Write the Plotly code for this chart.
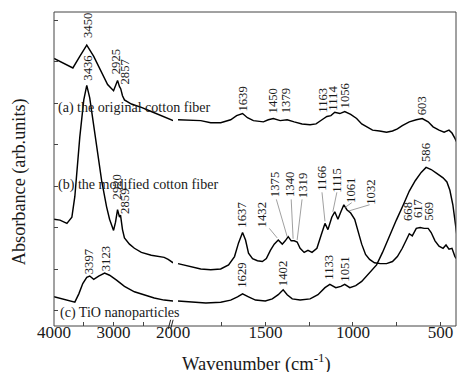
import plotly.graph_objects as go

# ---------------- data (wavenumber in cm-1, absorbance in arb. units) ----------------
a_left_wn = [4000, 3833, 3683, 3567, 3450, 3333, 3200, 3100, 3000, 2933, 2900, 2880, 2850, 2817,
             2700, 2533, 2367, 2200, 2100, 2000]
a_left_abs = [6.48, 6.35, 6.25, 6.53, 6.80, 6.53, 6.15, 5.85, 5.70, 5.95, 5.80, 5.75, 5.58, 5.48,
              5.38, 5.30, 5.20, 5.10, 5.03, 4.98]
a_right_wn = [2000, 1926, 1870, 1813, 1756, 1699, 1665, 1631, 1603, 1569, 1512, 1484, 1455, 1416, 1376,
              1336, 1291, 1245, 1211, 1177, 1149, 1126, 1104, 1075, 1047, 1013, 979, 950, 922, 888,
              848, 808, 774, 746, 718, 678, 638, 604, 570, 542, 508, 479, 451, 434, 417, 400]
a_right_abs = [5.00, 4.98, 4.98, 4.93, 4.93, 5.00, 5.10, 5.15, 5.05, 4.98, 4.95, 5.00, 5.03, 4.98, 5.00,
               4.95, 4.90, 4.88, 4.90, 5.00, 5.08, 5.10, 5.18, 5.15, 5.20, 5.13, 5.03, 4.90, 4.83, 4.75,
               4.73, 4.70, 4.73, 4.78, 4.86, 4.95, 5.00, 5.03, 4.95, 4.83, 4.75, 4.70, 4.75, 4.68, 4.55, 4.40]

b_left_wn = [4000, 3900, 3783, 3700, 3650, 3600, 3567, 3500, 3450, 3400, 3317, 3250, 3200, 3117, 3067,
             3000, 2967, 2933, 2900, 2883, 2850, 2817, 2733, 2650, 2533, 2367, 2233, 2150, 2083, 2000]
b_left_abs = [2.60, 2.58, 2.50, 2.65, 3.15, 4.03, 4.58, 5.48, 5.83, 5.53, 4.73, 4.03, 3.53, 2.90, 2.60,
              2.33, 2.53, 2.83, 2.65, 2.70, 2.35, 2.15, 2.00, 1.90, 1.80, 1.73, 1.70, 1.68, 1.63, 1.55]
b_right_wn = [2000, 1926, 1870, 1813, 1756, 1711, 1677, 1654, 1631, 1614, 1597, 1574, 1546, 1518, 1495,
              1472, 1450, 1427, 1404, 1387, 1370, 1353, 1336, 1319, 1302, 1279, 1257, 1234, 1206, 1183,
              1160, 1143, 1121, 1104, 1086, 1069, 1052, 1035, 1013, 990, 973, 950, 928, 905, 877,
              843, 808, 774, 746, 718, 695, 678, 661, 638, 616, 593, 570, 553, 531, 508,
              485, 468, 451, 434, 417, 400]
b_right_abs = [1.53, 1.45, 1.40, 1.38, 1.40, 1.50, 1.70, 2.03, 2.28, 2.10, 1.78, 1.65, 1.60, 1.58, 1.65,
               1.85, 2.00, 2.10, 2.00, 2.08, 2.18, 2.08, 2.08, 2.05, 1.90, 1.80, 1.85, 1.80, 1.90, 2.20,
               2.50, 2.35, 2.65, 2.78, 2.60, 2.78, 2.95, 2.83, 2.75, 2.60, 2.35, 2.00, 1.75, 1.63, 1.55,
               1.53, 1.53, 1.58, 1.70, 1.90, 2.10, 2.25, 2.20, 2.38, 2.40, 2.38, 2.38, 2.28, 2.08, 1.95,
               1.90, 1.98, 1.88, 1.90, 1.70, 1.60]

c_left_wn = [4000, 3867, 3733, 3650, 3583, 3517, 3450, 3400, 3333, 3250, 3150, 3067, 2950, 2817, 2650,
             2483, 2317, 2150, 2000]
c_left_abs = [0.73, 0.68, 0.63, 0.60, 0.80, 1.05, 1.20, 1.23, 1.15, 1.23, 1.30, 1.25, 1.13, 0.98, 0.85,
              0.78, 0.70, 0.65, 0.63]
c_right_wn = [2000, 1926, 1841, 1756, 1699, 1660, 1631, 1597, 1557, 1501, 1461, 1427, 1399, 1376, 1347,
              1302, 1245, 1200, 1160, 1132, 1098, 1069, 1047, 1018, 984, 950, 916, 888, 865, 831,
              792, 752, 712, 678, 644, 610, 582, 553, 519, 485, 463, 446, 429, 411, 400]
c_right_abs = [0.63, 0.60, 0.58, 0.60, 0.65, 0.73, 0.80, 0.73, 0.65, 0.63, 0.68, 0.78, 0.90, 0.78, 0.68,
               0.65, 0.68, 0.78, 0.95, 1.03, 0.95, 0.98, 1.03, 0.95, 1.00, 1.10, 1.25, 1.38, 1.50, 1.80,
               2.20, 2.58, 2.95, 3.28, 3.53, 3.73, 3.85, 3.80, 3.70, 3.60, 3.50, 3.30, 2.95, 2.45, 2.03]

series_names = ["(a) the original cotton fiber", "(b) the modified cotton fiber", "(c) TiO nanoparticles"]

left_ticks = [4000, 3500, 3000, 2500, 2000]
left_ticktext = ["4000", "", "3000", "", "2000"]
right_ticks = [1750, 1500, 1250, 1000, 750, 500]
right_ticktext = ["", "1500", "", "1000", "", "500"]

# peak labels: text, axis, wavenumber position, absorbance position
peak_labels = [
    ("3450", "x", 3433, 7.28), ("2925", "x", 2967, 6.40), ("2857", "x", 2800, 6.15),
    ("3436", "x", 3433, 6.25), ("2920", "x", 2950, 3.38), ("2859", "x", 2800, 3.03),
    ("3397", "x", 3417, 1.58), ("3123", "x", 3133, 1.65),
    ("1639", "x2", 1631, 5.50), ("1450", "x2", 1455, 5.45), ("1379", "x2", 1382, 5.45),
    ("1163", "x2", 1172, 5.48), ("1114", "x2", 1115, 5.53), ("1056", "x2", 1047, 5.58),
    ("603", "x2", 604, 5.33), ("586", "x2", 582, 4.20),
    ("1637", "x2", 1631, 2.70), ("1432", "x2", 1518, 2.70), ("1375", "x2", 1444, 3.43),
    ("1340", "x2", 1359, 3.43), ("1319", "x2", 1285, 3.40), ("1166", "x2", 1177, 3.60),
    ("1115", "x2", 1092, 3.55), ("1061", "x2", 1007, 3.30), ("1032", "x2", 894, 3.25),
    ("668", "x2", 684, 2.78), ("617", "x2", 627, 2.85), ("569", "x2", 565, 2.78),
    ("1629", "x2", 1631, 1.25), ("1402", "x2", 1399, 1.28), ("1133", "x2", 1138, 1.45),
    ("1051", "x2", 1047, 1.40),
]
# leader lines (x0, y0, x1, y1) on the right axis
leaders = [
    (1478, 2.38, 1433, 2.15), (1438, 3.08, 1376, 2.18), (1353, 3.08, 1342, 2.13),
    (1291, 3.08, 1319, 2.10), (1177, 3.25, 1160, 2.55), (1092, 3.25, 1115, 2.78),
    (1007, 3.00, 1047, 2.88), (905, 2.95, 1024, 2.80),
]

# ---------------- figure ----------------
# design space is the 460x372 picture; the page is photographed from a slightly
# larger layout box, so every size is drawn with a uniform scale factor S
W, H = 460, 372
S = 476 / 460
ML, MR, MT, MB = 52, 3, 12, 57
PW, PH = W - ML - MR, H - MT - MB
split = (172 - ML) / PW
SERIF = "Liberation Serif, Times New Roman, serif"
INK = "#1a1a1a"

def px_x(p):
    return (p - ML) / PW

def px_y(p):
    return (H - MB - p) / PH

fig = go.Figure()
line_style = dict(color="black", width=1.4 * S)
for wn, ab in [(a_left_wn, a_left_abs), (b_left_wn, b_left_abs), (c_left_wn, c_left_abs)]:
    fig.add_trace(go.Scatter(x=wn, y=ab, xaxis="x", yaxis="y", mode="lines", line=line_style,
                             showlegend=False, hoverinfo="skip"))
for wn, ab in [(a_right_wn, a_right_abs), (b_right_wn, b_right_abs), (c_right_wn, c_right_abs)]:
    fig.add_trace(go.Scatter(x=wn, y=ab, xaxis="x2", yaxis="y", mode="lines", line=line_style,
                             showlegend=False, hoverinfo="skip"))

axis_common = dict(ticks="inside", ticklen=4 * S, tickcolor="#444", tickwidth=1, showgrid=False,
                   zeroline=False, showline=False, ticklabelstandoff=-6,
                   tickfont=dict(family=SERIF, size=16.5 * S, color=INK))

annotations = []
for text, ax, xv, yv in peak_labels:
    annotations.append(dict(text=text, xref=ax, yref="y", x=xv, y=yv, showarrow=False,
                            textangle=-90, xanchor="center", yanchor="middle",
                            font=dict(family=SERIF, size=12.3 * S, color=INK)))
for name, xv, yv in zip(series_names, [3967, 3967, 3934], [5.30, 3.45, 0.35]):
    annotations.append(dict(text=name, xref="x", yref="y", x=xv, y=yv, showarrow=False,
                            xanchor="left", yanchor="middle",
                            font=dict(family=SERIF, size=13.6 * S, color=INK)))
annotations.append(dict(text="Wavenumber (cm<sup>-1</sup>)", xref="paper", yref="paper",
                        x=px_x(256), y=px_y(350), showarrow=False, xanchor="center", yanchor="middle",
                        font=dict(family=SERIF, size=17.9 * S, color=INK)))
annotations.append(dict(text="Absorbance (arb.units)", xref="paper", yref="paper",
                        x=px_x(18), y=px_y(176), showarrow=False, textangle=-90,
                        xanchor="center", yanchor="middle",
                        font=dict(family=SERIF, size=17.6 * S, color=INK)))

shapes = [dict(type="rect", xref="paper", yref="paper", x0=0, y0=0, x1=1, y1=1,
               line=dict(color="#444", width=1))]
for x0, y0, x1, y1 in leaders:
    shapes.append(dict(type="line", xref="x2", yref="y", x0=x0, y0=y0, x1=x1, y1=y1,
                       line=dict(color="#777", width=0.7)))
# axis break mark
for dx in (0, 2.5):
    shapes.append(dict(type="line", xref="paper", yref="paper",
                       x0=px_x(167 + dx), y0=px_y(318), x1=px_x(169.5 + dx), y1=px_y(309),
                       line=dict(color="#222", width=1)))

fig.update_layout(
    width=round(W * S), height=round(H * S), autosize=False,
    margin=dict(l=ML * S, r=MR * S, t=MT * S, b=MB * S, pad=0),
    paper_bgcolor="white", plot_bgcolor="white",
    xaxis=dict(domain=[0, split], range=[4000, 2000], tickvals=left_ticks, ticktext=left_ticktext,
               anchor="y", **axis_common),
    xaxis2=dict(domain=[split, 1], range=[2028, 411], tickvals=right_ticks, ticktext=right_ticktext,
                anchor="y", **axis_common),
    yaxis=dict(domain=[0, 1], range=[0.025, 7.6], tickvals=[0.4 + i for i in range(8)],
               showticklabels=False, ticks="inside", ticklen=4 * S, tickcolor="#444",
               showgrid=False, zeroline=False, showline=False),
    annotations=annotations, shapes=shapes,
)

post = (
    "document.documentElement.style.margin='0';"
    "document.documentElement.style.overflow='hidden';"
    "document.body.style.margin='0';"
    "document.body.style.overflow='hidden';"
)
fig.write_html("out.html", config={"displayModeBar": False, "responsive": False},
               post_script=post)
